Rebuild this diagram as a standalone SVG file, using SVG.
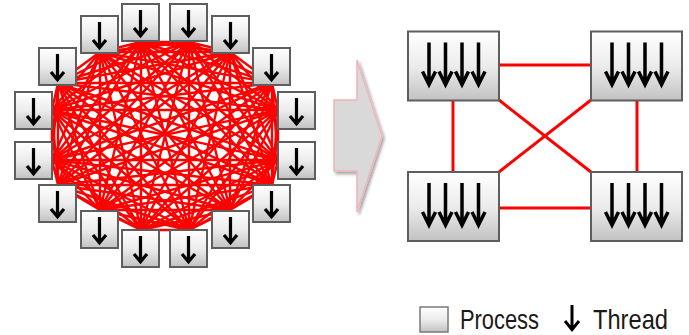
<svg xmlns="http://www.w3.org/2000/svg" xmlns:xlink="http://www.w3.org/1999/xlink" width="689" height="335" viewBox="0 0 689 335">
  <style>
    .pbox { fill: url(#boxGrad); stroke: #5e5e5e; stroke-width: 2; }
    .mesh { fill: none; stroke: #ff0000; stroke-width: 2.4; stroke-linecap: round; }
    .link { fill: none; stroke: #ff0000; stroke-width: 3; }
    .lbl { font-family: "Liberation Sans", "Noto Sans", sans-serif; font-size: 28px; fill: #1a1a1a; }
  </style>
  <defs>
    <linearGradient id="boxGrad" x1="0" y1="0" x2="0" y2="1">
      <stop offset="0" stop-color="#ffffff"/>
      <stop offset="0.5" stop-color="#ececec"/>
      <stop offset="1" stop-color="#c2c2c2"/>
    </linearGradient>
    <filter id="soft" x="-20%" y="-20%" width="150%" height="150%">
      <feDropShadow dx="2" dy="2.5" stdDeviation="1.5" flood-color="#000" flood-opacity="0.35"/>
    </filter>
    <!-- thread glyph for the small process boxes (37 wide) -->
    <path id="thrS" d="M18.5 6V31M12 24L18.5 31.8L25 24" fill="none" stroke="#000" stroke-width="3.2"/>
    <!-- thread glyph for the large process boxes, centred on x=0 -->
    <path id="thrL" d="M0 11V52M-6.5 40L0 53L6.5 40" fill="none" stroke="#000" stroke-width="3.5"/>
  </defs>

  <!-- fully connected mesh between 16 single-thread processes -->
  <g id="connectors-mesh" class="mesh">
    <path d="M141 42L189 42M141 42L230 52M141 42L272 83M141 42L278 110M141 42L278 160M141 42L272 185M141 42L230 210M141 42L189 230M141 42L141 230M141 42L100 210M141 42L58 185M141 42L52 160M141 42L52 110M141 42L58 83M141 42L100 52"/>
    <path d="M189 42L230 52M189 42L272 83M189 42L278 110M189 42L278 160M189 42L272 185M189 42L230 210M189 42L189 230M189 42L141 230M189 42L100 210M189 42L58 185M189 42L52 160M189 42L52 110M189 42L58 83M189 42L100 52"/>
    <path d="M230 52L272 83M230 52L278 110M230 52L278 160M230 52L272 185M230 52L230 210M230 52L189 230M230 52L141 230M230 52L100 210M230 52L58 185M230 52L52 160M230 52L52 110M230 52L58 83M230 52L100 52"/>
    <path d="M272 83L278 110M272 83L278 160M272 83L272 185M272 83L230 210M272 83L189 230M272 83L141 230M272 83L100 210M272 83L58 185M272 83L52 160M272 83L52 110M272 83L58 83M272 83L100 52"/>
    <path d="M278 110L278 160M278 110L272 185M278 110L230 210M278 110L189 230M278 110L141 230M278 110L100 210M278 110L58 185M278 110L52 160M278 110L52 110M278 110L58 83M278 110L100 52"/>
    <path d="M278 160L272 185M278 160L230 210M278 160L189 230M278 160L141 230M278 160L100 210M278 160L58 185M278 160L52 160M278 160L52 110M278 160L58 83M278 160L100 52"/>
    <path d="M272 185L230 210M272 185L189 230M272 185L141 230M272 185L100 210M272 185L58 185M272 185L52 160M272 185L52 110M272 185L58 83M272 185L100 52"/>
    <path d="M230 210L189 230M230 210L141 230M230 210L100 210M230 210L58 185M230 210L52 160M230 210L52 110M230 210L58 83M230 210L100 52"/>
    <path d="M189 230L141 230M189 230L100 210M189 230L58 185M189 230L52 160M189 230L52 110M189 230L58 83M189 230L100 52"/>
    <path d="M141 230L100 210M141 230L58 185M141 230L52 160M141 230L52 110M141 230L58 83M141 230L100 52"/>
    <path d="M100 210L58 185M100 210L52 160M100 210L52 110M100 210L58 83M100 210L100 52"/>
    <path d="M58 185L52 160M58 185L52 110M58 185L58 83M58 185L100 52"/>
    <path d="M52 160L52 110M52 160L58 83M52 160L100 52"/>
    <path d="M52 110L58 83M52 110L100 52"/>
    <path d="M58 83L100 52"/>
  </g>

  <!-- links between the 4 multi-thread processes -->
  <g id="connectors-links" class="link">
    <path d="M499 65H591"/>
    <path d="M499 208H591"/>
    <path d="M453 100V172"/>
    <path d="M637 100V172"/>
    <path d="M499 100L591 172"/>
    <path d="M591 100L499 172"/>
  </g>

  <!-- single-thread processes -->
  <g id="p01" transform="translate(122,4)"><rect class="pbox" width="37" height="37"/><use href="#thrS"/></g>
  <g id="p02" transform="translate(170,4)"><rect class="pbox" width="37" height="37"/><use href="#thrS"/></g>
  <g id="p03" transform="translate(212,16)"><rect class="pbox" width="37" height="37"/><use href="#thrS"/></g>
  <g id="p04" transform="translate(253,48)"><rect class="pbox" width="37" height="37"/><use href="#thrS"/></g>
  <g id="p05" transform="translate(278,92)"><rect class="pbox" width="37" height="37"/><use href="#thrS"/></g>
  <g id="p06" transform="translate(278,142)"><rect class="pbox" width="37" height="37"/><use href="#thrS"/></g>
  <g id="p07" transform="translate(253,185)"><rect class="pbox" width="37" height="37"/><use href="#thrS"/></g>
  <g id="p08" transform="translate(212,211)"><rect class="pbox" width="37" height="37"/><use href="#thrS"/></g>
  <g id="p09" transform="translate(170,230)"><rect class="pbox" width="37" height="37"/><use href="#thrS"/></g>
  <g id="p10" transform="translate(122,230)"><rect class="pbox" width="37" height="37"/><use href="#thrS"/></g>
  <g id="p11" transform="translate(81,211)"><rect class="pbox" width="37" height="37"/><use href="#thrS"/></g>
  <g id="p12" transform="translate(39,185)"><rect class="pbox" width="37" height="37"/><use href="#thrS"/></g>
  <g id="p13" transform="translate(15,142)"><rect class="pbox" width="37" height="37"/><use href="#thrS"/></g>
  <g id="p14" transform="translate(15,92)"><rect class="pbox" width="37" height="37"/><use href="#thrS"/></g>
  <g id="p15" transform="translate(39,48)"><rect class="pbox" width="37" height="37"/><use href="#thrS"/></g>
  <g id="p16" transform="translate(81,16)"><rect class="pbox" width="37" height="37"/><use href="#thrS"/></g>

  <!-- transition arrow -->
  <g id="transition">
    <polygon points="334,100 357,100 357,60 382,136 357,212 357,171 334,171" fill="#d9d9d9" stroke="#f2b4b4" stroke-width="1.5" filter="url(#soft)"/>
  </g>

  <!-- multi-thread processes -->
  <g id="mp1" transform="translate(408,31.5)">
    <rect class="pbox" width="91" height="69"/>
    <use href="#thrL" x="21"/><use href="#thrL" x="37.5"/><use href="#thrL" x="54"/><use href="#thrL" x="70.5"/>
  </g>
  <g id="mp2" transform="translate(591,31.5)">
    <rect class="pbox" width="91" height="69"/>
    <use href="#thrL" x="21"/><use href="#thrL" x="37.5"/><use href="#thrL" x="54"/><use href="#thrL" x="70.5"/>
  </g>
  <g id="mp3" transform="translate(408,172)">
    <rect class="pbox" width="91" height="69"/>
    <use href="#thrL" x="21"/><use href="#thrL" x="37.5"/><use href="#thrL" x="54"/><use href="#thrL" x="70.5"/>
  </g>
  <g id="mp4" transform="translate(591,172)">
    <rect class="pbox" width="91" height="69"/>
    <use href="#thrL" x="21"/><use href="#thrL" x="37.5"/><use href="#thrL" x="54"/><use href="#thrL" x="70.5"/>
  </g>

  <!-- legend -->
  <g id="legend">
    <rect x="420" y="307" width="28" height="25" fill="url(#boxGrad)" stroke="#7a7a7a" stroke-width="1.5"/>
    <text class="lbl" x="460" y="329" textLength="79" lengthAdjust="spacingAndGlyphs">Process</text>
    <path d="M572 305V329M565 321L572 329.7L579 321" fill="none" stroke="#000" stroke-width="3"/>
    <text class="lbl" x="593" y="329" textLength="75" lengthAdjust="spacingAndGlyphs">Thread</text>
  </g>
</svg>
